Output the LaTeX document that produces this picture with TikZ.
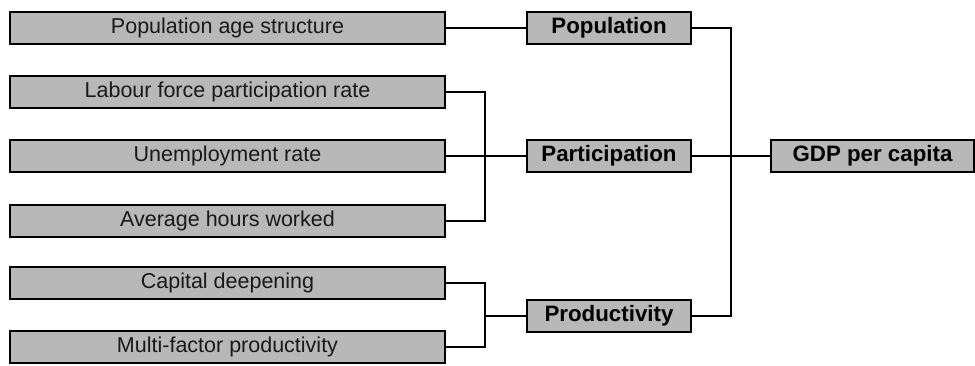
\documentclass[tikz,border=0pt]{standalone}
\usepackage{fontspec}
\setmainfont{Liberation Sans}
\begin{document}
\begin{tikzpicture}[x=1pt,y=-1pt,
  leftbox/.style={draw=black,line width=1.1pt,fill=black!28,minimum width=435pt,minimum height=32pt,inner sep=0pt,font=\fontsize{21.5}{23}\selectfont,text=black!90},
  midbox/.style={draw=black,line width=1.1pt,fill=black!28,minimum width=164pt,minimum height=32pt,inner sep=0pt,font=\fontsize{22.3}{24}\selectfont\bfseries},
  gdpbox/.style={draw=black,line width=1.1pt,fill=black!28,minimum width=203pt,minimum height=32pt,inner sep=0pt,font=\fontsize{22.3}{24}\selectfont\bfseries},
  conn/.style={draw=black,line width=1.1pt}]
\useasboundingbox (0,0) rectangle (975,365);
\node[leftbox] (pas) at (227.5,28) {Population age structure};
\node[leftbox] (lab) at (227.5,92) {Labour force participation rate};
\node[leftbox] (une) at (227.5,156) {Unemployment rate};
\node[leftbox] (avg) at (227.5,221) {Average hours worked};
\node[leftbox] (cap) at (227.5,283) {Capital deepening};
\node[leftbox] (mfp) at (227.5,347) {Multi-factor productivity};
\node[midbox] (popn) at (609,28) {Population};
\node[midbox] (part) at (609,156) {Participation};
\node[midbox] (prod) at (609,316) {Productivity};
\node[gdpbox] (gdp) at (872.5,156) {GDP per capita};
\coordinate (j1) at (485,156);
\coordinate (j2) at (485,316);
\coordinate (j3) at (731,156);
\draw[conn] (pas.east) -- (popn.west);
\draw[conn] (lab.east) -| (j1);
\draw[conn] (avg.east) -| (j1);
\draw[conn] (une.east) -- (part.west);
\draw[conn] (cap.east) -| (j2);
\draw[conn] (mfp.east) -| (j2);
\draw[conn] (j2) -- (prod.west);
\draw[conn] (popn.east) -| (j3);
\draw[conn] (prod.east) -| (j3);
\draw[conn] (part.east) -- (gdp.west);
\end{tikzpicture}
\end{document}
